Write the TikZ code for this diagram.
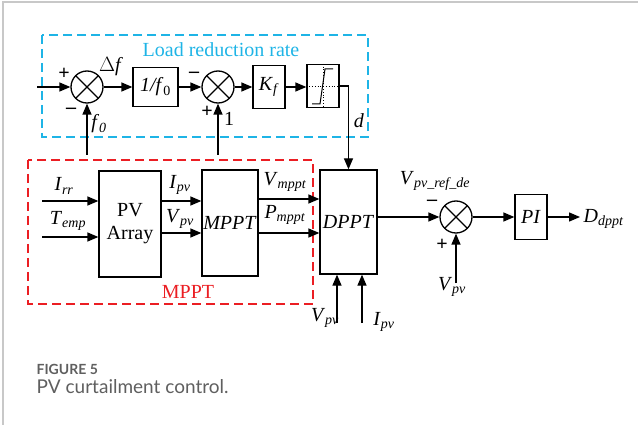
\documentclass[tikz,border=0pt]{standalone}
\usepackage{fontspec}
\setmainfont{Liberation Serif}
\newfontfamily\capfont{Lato}
\usetikzlibrary{arrows.meta}
\definecolor{lrblue}{RGB}{30,180,230}
\definecolor{mpred}{RGB}{235,30,35}
\definecolor{capgray}{RGB}{95,95,95}
\definecolor{framegray}{RGB}{200,200,200}
\newcommand{\vsub}[2]{\textit{#1}\textsubscript{\textit{#2}}}
\begin{document}
\begin{tikzpicture}[x=1pt,y=-1pt,>={Triangle[length=11pt,width=9pt]},line width=1.3pt,
  block/.style={draw, inner sep=0pt, align=center, font=\fontsize{20}{23}\selectfont},
  sumjunc/.style={draw, circle, minimum size=32pt, inner sep=0pt,
    path picture={\draw (path picture bounding box.north west) -- (path picture bounding box.south east)
      (path picture bounding box.north east) -- (path picture bounding box.south west);}},
  lbl/.style={inner sep=0pt, font=\fontsize{20}{22}\selectfont},
  sgn/.style={inner sep=0pt, font=\bfseries\fontsize{20}{22}\selectfont}]
\useasboundingbox (0,0) rectangle (638,425);
\draw[framegray, line width=1.5pt] (3,425) -- (3,2) -- (638,2);

\draw[lrblue, dashed, dash pattern=on 9pt off 5pt] (42,35) rectangle (368,137);
\node[lbl, text=lrblue] (lrt) at (221,50) {Load reduction rate};

\node[sumjunc] (s1) at (87,87) {};
\node[block, minimum width=45pt, minimum height=39pt] (inv) at (155.5,87) {\textit{1/f}\textsubscript{0}};
\node[sumjunc] (s2) at (218,87) {};
\node[block, minimum width=32pt, minimum height=43pt] (kf) at (269,87) {\vsub{K}{f}};
\node[draw, inner sep=0pt, minimum width=32pt, minimum height=43pt] (sat) at (323,86) {};
\draw[line width=0.8pt, dotted] (sat.west) -- (sat.east) (sat.north) -- (sat.south);
\draw[line width=1pt] ([shift={(-11,18)}]sat.center) -- ([shift={(-3,18)}]sat.center)
  -- ([shift={(2,-17)}]sat.center) -- ([shift={(10,-17)}]sat.center);

\coordinate (fin) at (37,87);
\coordinate (f0in) at (87,155);
\coordinate (onein) at (218,155);
\draw[->] (fin) -- (s1);
\draw[->] (f0in) -- (s1);
\draw[->] (s1) -- (inv);
\draw[->] (inv) -- (s2);
\draw[->] (onein) -- (s2);
\draw[->] (s2) -- (kf);
\draw[->] (kf) -- (kf -| sat.west);

\node[sgn] (p1) at (64,74) {+};
\node[sgn] (m1) at (71,111) {--};
\node[lbl] (df) at (111,67) {$\Delta$\textit{f}};
\node[lbl] (f0) at (99,124) {\vsub{f}{0}};
\node[sgn] (m2) at (194,75) {--};
\node[sgn] (p2) at (207,112) {+};
\node[lbl] (one) at (229,119) {1};

\draw[mpred, dashed, dash pattern=on 9pt off 5pt] (28,160) rectangle (313,304);
\node[lbl, text=mpred] (mpl) at (188,292) {MPPT};

\node[block, minimum width=62pt, minimum height=106pt] (pv) at (130,224) {PV\\Array};
\node[block, minimum width=56pt, minimum height=106pt] (mppt) at (230,223) {\textit{MPPT}};
\node[block, minimum width=57pt, minimum height=104pt] (dppt) at (348.5,222) {\textit{DPPT}};

\coordinate (irr) at (42,201);
\coordinate (temp) at (42,237);
\draw[->] (irr) -- (irr -| pv.west);
\draw[->] (temp) -- (temp -| pv.west);
\draw[->] ([yshift=23pt]pv.east) -- ([yshift=23pt]pv.east -| mppt.west);
\draw[->] ([yshift=-9pt]pv.east) -- ([yshift=-9pt]pv.east -| mppt.west);
\draw[->] ([yshift=24pt]mppt.east) -- ([yshift=24pt]mppt.east -| dppt.west);
\draw[->] ([yshift=-10pt]mppt.east) -- ([yshift=-10pt]mppt.east -| dppt.west);
\draw[->] (sat.east) -| (dppt.north);

\node[lbl] (lirr) at (64,186) {\vsub{I}{rr}};
\node[lbl] (ltemp) at (68,221) {\vsub{T}{emp}};
\node[lbl] (lipv) at (180,185) {\vsub{I}{pv}};
\node[lbl] (lvpv) at (180,219) {\vsub{V}{pv}};
\node[lbl] (lvm) at (285,182) {\vsub{V}{mppt}};
\node[lbl] (lpm) at (285,215) {\vsub{P}{mppt}};
\node[lbl] (ld) at (359,121) {\textit{d}};

\node[sumjunc] (s3) at (456,217) {};
\node[block, minimum width=32pt, minimum height=45pt] (pi) at (531,217) {\textit{PI}};
\coordinate (vpv3) at (456,283);
\coordinate (dout) at (580,217);
\draw[->] ([yshift=5pt]dppt.east) -- (s3);
\draw[->] (vpv3) -- (s3);
\draw[->] (s3) -- (pi);
\draw[->] (pi) -- (dout);

\node[lbl] (lref) at (435,181) {\vsub{V}{pv\_ref\_de}};
\node[sgn] (m3) at (432,203) {--};
\node[sgn] (p3) at (442,245) {+};
\node[lbl] (lvpv3) at (452,287) {\vsub{V}{pv}};
\node[lbl, anchor=west] (ldd) at (583,219) {\vsub{D}{dppt}};

\coordinate (vpvd) at (337,323);
\coordinate (ipvd) at (362,323);
\draw[->] (vpvd) -- (vpvd |- dppt.south);
\draw[->] (ipvd) -- (ipvd |- dppt.south);
\node[lbl] (lvpvd) at (325,318) {\vsub{V}{pv}};
\node[lbl] (lipvd) at (384,322) {\vsub{I}{pv}};

\node[anchor=base west, inner sep=0pt, text=capgray, font=\capfont\bfseries\fontsize{14}{16}\selectfont] (fig) at (36,374) {FIGURE 5};
\node[anchor=base west, inner sep=0pt, text=capgray, font=\capfont\fontsize{19}{22}\selectfont] (cap) at (36,393) {PV curtailment control.};
\end{tikzpicture}
\end{document}
